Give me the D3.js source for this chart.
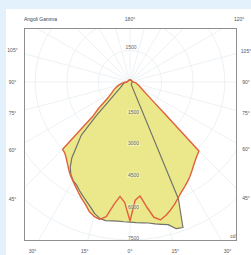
<!DOCTYPE html>
<html>
<head>
<meta charset="utf-8">
<script src="https://cdn.jsdelivr.net/npm/d3@7"></script>
<style>
  html, body { margin: 0; padding: 0; background: #e2f1fb; }
  svg { display: block; }
  text { font-family: "Liberation Sans", Arial, sans-serif; }
</style>
</head>
<body>
<svg id="chart" width="251" height="255"></svg>
<script>
// ---- data ----
const gammaAngles = [0,2.5,5,7.5,10,12.5,15,17.5,20,22.5,25,27.5,30,32.5,35,37.5,40,42.5,45,47.5,50,55,60,65,70,75,80,85,90,105,120,135,150,165,180];
// red curve: C0 (right half) and C180 (left half), cd
const c0   = [6600,5620,5430,5960,6520,6700,6560,6380,6180,5960,5770,5610,5460,5300,5130,4970,4830,4720,4630,2250,1450,880,640,510,420,350,300,230,150,110,100,100,100,100,100];
const c180 = [6600,5730,5450,5870,6490,6680,6600,6440,6180,5990,5790,5600,5420,5260,5070,4880,4710,4580,4520,2350,1940,1235,980,830,680,535,400,300,150,110,100,100,100,100,100];
// grey curve: C90 (right half) and C270 (left half), cd
const c90  = [6650,6680,6710,6750,6840,6920,7010,7300,7350,6000,150,130,120,110,110,100,100,100,100,100,100,100,100,100,100,100,100,100,100,100,100,100,100,100,100];
const c270 = [6650,6640,6630,6650,6680,6630,6470,6230,6030,5850,5680,5500,5400,5220,4950,4530,3900,3420,2260,1430,1060,705,525,430,380,330,280,220,150,110,100,100,100,100,100];
const radialTicks = [1500,3000,4500,6000,7500];
const gridCircles = [1500,3000,4500,6000,7500,9000];
const sideTickLabels = [45,60,75,90,105];
const bottomTickLabels = [-30,-15,0,15,30];
const topTickLabels = [120,180];
const titleText = "Angoli Gamma";
const unitText = "cd";

// ---- layout ----
const svg = d3.select("#chart");
const frame = {x0: 24, y0: 28, x1: 237, y1: 241};
const cx = 130, cy = 82;
const labelBox = {x0: 12.5, x1: 246, y0: 19, y1: 251};

const r = d3.scaleLinear().domain([0, 7500]).range([0, 158]);
// signed gamma (positive = right side), 0 = straight down
const a = d3.scaleLinear().domain([-180, 180]).range([2 * Math.PI, 0]);

svg.append("rect").attr("x", 6).attr("y", 9).attr("width", 245).attr("height", 246).attr("fill", "#ffffff");

svg.append("clipPath").attr("id", "clipFrame")
  .append("rect").attr("x", frame.x0).attr("y", frame.y0)
  .attr("width", frame.x1 - frame.x0).attr("height", frame.y1 - frame.y0);

const plot = svg.append("g").attr("clip-path", "url(#clipFrame)");
const g = plot.append("g").attr("transform", `translate(${cx},${cy})`);

// grid
const gridColor = "#e8edf1";
g.selectAll("circle.grid").data(gridCircles).join("circle")
  .attr("r", d => r(d)).attr("fill", "none").attr("stroke", gridColor).attr("stroke-width", 0.8);
const spokes = d3.range(-180, 180, 15);
g.selectAll("line.spoke").data(spokes).join("line")
  .attr("x1", 0).attr("y1", 0)
  .attr("x2", d => 400 * Math.sin(a(d)))
  .attr("y2", d => -400 * Math.cos(a(d)))
  .attr("stroke", gridColor).attr("stroke-width", 0.8);

// curves
function planePoints(right, left) {
  const pts = [];
  gammaAngles.forEach((gm, i) => pts.push([a(gm), r(right[i])]));
  for (let i = gammaAngles.length - 2; i >= 1; i--) pts.push([a(-gammaAngles[i]), r(left[i])]);
  return pts;
}
const radial = d3.lineRadial().angle(d => d[0]).radius(d => d[1]).curve(d3.curveLinearClosed);
const redPts = planePoints(c0, c180);
const greyPts = planePoints(c90, c270);
const fillColor = "#ebe88b";
g.append("path").attr("d", radial(redPts)).attr("fill", fillColor).attr("stroke", "none");
g.append("path").attr("d", radial(greyPts)).attr("fill", fillColor).attr("stroke", "none");
g.append("path").attr("d", radial(greyPts)).attr("fill", "none").attr("stroke", "#72736a").attr("stroke-width", 1.2).attr("stroke-linejoin", "round");
g.append("path").attr("d", radial(redPts)).attr("fill", "none").attr("stroke", "#e0603c").attr("stroke-width", 1.4).attr("stroke-linejoin", "round");

// radial value labels
const fs = 5;
const lab = g.append("g").attr("font-size", fs).attr("fill", "#666").attr("text-anchor", "middle");
radialTicks.forEach(v => {
  const y = r(v) - 1.5;
  lab.append("rect").attr("x", 3.5 - 6.5).attr("y", y - 2.8).attr("width", 13).attr("height", 5.2)
    .attr("fill", "#ffffff").attr("fill-opacity", 0.35);
  lab.append("text").attr("x", 3.5).attr("y", y).attr("dy", "0.35em").text(v);
});
lab.append("text").attr("x", 1).attr("y", -r(1500) - 3.5).attr("dy", "0.35em").text(radialTicks[0]);

// frame
svg.append("rect").attr("x", frame.x0 + 0.5).attr("y", frame.y0 + 0.5)
  .attr("width", frame.x1 - frame.x0 - 1).attr("height", frame.y1 - frame.y0 - 1)
  .attr("fill", "none").attr("stroke", "#8f8f8f").attr("stroke-width", 1);

// angle labels where rays meet the outer label box
function rayHit(sg) {
  const th = sg * Math.PI / 180;
  const dx = Math.sin(th), dy = Math.cos(th);
  let t = Infinity;
  if (dx > 1e-9) t = Math.min(t, (labelBox.x1 - cx) / dx);
  if (dx < -1e-9) t = Math.min(t, (labelBox.x0 - cx) / dx);
  if (dy > 1e-9) t = Math.min(t, (labelBox.y1 - cy) / dy);
  if (dy < -1e-9) t = Math.min(t, (labelBox.y0 - cy) / dy);
  return [cx + t * dx, cy + t * dy];
}
const angLab = svg.append("g").attr("font-size", fs).attr("fill", "#555").attr("text-anchor", "middle");
const angleLabels = [];
sideTickLabels.forEach(d => { angleLabels.push(-d); angleLabels.push(d); });
bottomTickLabels.forEach(d => angleLabels.push(d));
topTickLabels.forEach(d => angleLabels.push(d));
angleLabels.forEach(sg => {
  const [x, y] = rayHit(sg);
  angLab.append("text").attr("x", x).attr("y", y).attr("dy", "0.35em").text(Math.abs(sg) + "°");
});

svg.append("text").attr("x", 24).attr("y", 19).attr("dy", "0.35em")
  .attr("font-size", fs).attr("fill", "#444").text(titleText);
svg.append("text").attr("x", 233).attr("y", 236).attr("dy", "0.35em").attr("text-anchor", "middle")
  .attr("font-size", fs).attr("fill", "#555").text(unitText);
</script>
</body>
</html>
